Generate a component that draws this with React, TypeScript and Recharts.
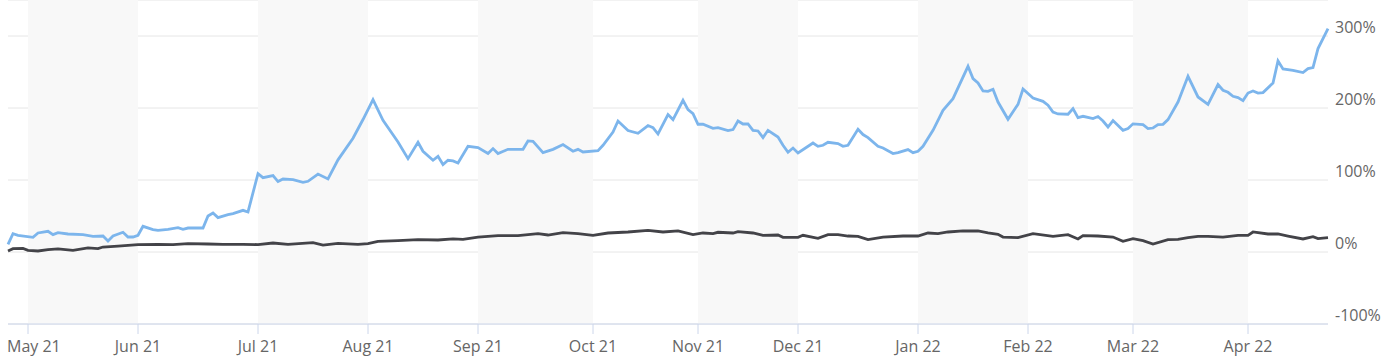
import { CartesianGrid, Line, LineChart, ReferenceArea, XAxis, YAxis } from 'recharts';

// x positions are session indexes (one per trading session shown on the ordinal axis)
const monthLabels = ['May 21', 'Jun 21', 'Jul 21', 'Aug 21', 'Sep 21', 'Oct 21', 'Nov 21', 'Dec 21', 'Jan 22', 'Feb 22', 'Mar 22', 'Apr 22'];
const monthStarts = [4, 26, 50, 72, 94, 117, 138, 158, 182, 204, 225, 248];
const lastSession = 264;
const yTicks = [-100, 0, 100, 200, 300];

const fundSessions = [
  0, 1, 2, 5, 6, 8, 9, 10, 12, 15, 17, 19, 20, 21, 23, 24, 25, 26, 27, 29, 30, 32, 34, 35, 36, 39,
  40, 41, 42, 44, 45, 47, 48, 50, 51, 53, 54, 55, 57, 59, 60, 62, 64, 66, 69, 71, 73, 75, 78, 80,
  82, 83, 85, 86, 87, 88, 89, 90, 92, 94, 96, 97, 98, 100, 103, 104, 105, 107, 109, 111, 113, 114,
  115, 118, 119, 121, 122, 124, 126, 128, 129, 130, 132, 133, 135, 136, 137, 138, 139, 141, 142,
  144, 145, 146, 147, 148, 149, 150, 151, 152, 154, 155, 156, 157, 158, 161, 162, 163, 164, 166,
  167, 168, 170, 171, 172, 174, 175, 177, 178, 180, 181, 182, 183, 185, 187, 189, 192, 193, 194,
  195, 196, 197, 198, 200, 202, 203, 205, 207, 208, 209, 210, 212, 213, 214, 215, 217, 218, 219,
  220, 221, 223, 224, 225, 227, 228, 229, 230, 231, 232, 234, 236, 238, 240, 242, 243, 244, 245,
  246, 247, 248, 249, 250, 251, 253, 254, 255, 257, 259, 260, 261, 262, 264,
];
const fundReturns = [
  10.7, 25.5, 23.2, 20.4, 26.4, 28.7, 24.1, 26.9, 25, 24.1, 21.8, 22.2, 15.3, 22.2, 27.4, 20.8, 20.8,
  23.2, 35.7, 31.1, 30.1, 31.5, 33.9, 31.5, 33.3, 33.3, 50, 54.2, 47.8, 51.9, 53.3, 57.9, 55.6,
  108.9, 103.3, 106.1, 97.8, 101.4, 100.5, 96.8, 98.2, 108.3, 101.4, 128, 158, 184, 211.7, 182.9,
  152.8, 129.7, 152.4, 139.9, 127.4, 132.9, 121.4, 127.4, 126.5, 123.6, 146.8, 145, 136.7, 143.6,
  136.7, 142.6, 142.6, 154.2, 153.8, 138, 142.6, 149.2, 139.9, 142.6, 138.9, 140.8, 148.2, 166.7,
  181.9, 168.6, 164.9, 175.6, 172.8, 163.9, 190.8, 183.9, 210.7, 197.8, 192.2, 177.4, 177.4, 171.8,
  172.8, 168.6, 170, 181.9, 177.8, 177.8, 169, 168.1, 158.9, 169, 159.7, 148.2, 138.5, 144.4, 137.5,
  151.4, 146.8, 148.2, 152.4, 150.6, 146.8, 148.2, 170.4, 163.1, 158.9, 146.8, 144.4, 136.7, 138,
  142.2, 138, 139.9, 146.8, 169, 196.8, 213, 257.9, 240.8, 234.7, 223.6, 223.2, 226, 208.3, 184.3,
  205.1, 226.4, 213.9, 209.3, 203.8, 194.4, 191.7, 191.3, 199.2, 186.7, 188.5, 185.3, 188.1, 181.9,
  173.6, 182.5, 169, 171.4, 178, 176.9, 171.4, 172.2, 176.9, 177.4, 183.9, 208.3, 244, 215.3, 205.1,
  232.5, 224.6, 221.8, 216.3, 214.4, 210.3, 220.8, 223.6, 220.8, 221.4, 234.7, 265.3, 254.2, 252.4,
  249.2, 254.7, 256.1, 282.5, 310.3,
];

const benchSessions = [
  0, 1, 3, 4, 6, 8, 10, 13, 16, 18, 19, 22, 26, 30, 33, 36, 40, 43, 47, 50, 53, 56, 61, 63, 66, 70,
  72, 74, 78, 82, 86, 89, 91, 94, 98, 102, 106, 108, 111, 114, 117, 120, 124, 128, 131, 134, 137,
  139, 141, 142, 145, 146, 149, 151, 154, 155, 158, 159, 162, 164, 166, 168, 170, 172, 175, 179,
  182, 184, 186, 188, 191, 194, 196, 198, 199, 202, 205, 209, 212, 214, 215, 218, 221, 223, 225,
  227, 229, 232, 234, 236, 238, 240, 243, 246, 248, 249, 252, 254, 256, 259, 261, 262, 264,
];
const benchReturns = [
  1.4, 4.7, 5.1, 2.4, 1.4, 3.3, 4.2, 2.4, 5.6, 4.7, 6.9, 8.3, 10.3, 10.7, 10.3, 11.7, 11.1, 10.7,
  10.7, 10.3, 12.5, 10.7, 13, 9.7, 12.1, 10.7, 11.7, 14.9, 15.8, 17.2, 16.7, 18.1, 17.6, 20.8, 22.8,
  22.8, 25.6, 23.6, 26.9, 25.6, 23.2, 26.4, 27.8, 30.1, 27.8, 29.2, 24.1, 26.4, 25.6, 27.4, 26.4,
  28.3, 26.4, 23.2, 23.6, 20.4, 20.4, 23.2, 19, 24.1, 24.1, 22.2, 21.8, 17.2, 20.8, 22.2, 22.2, 26.4,
  25.6, 27.8, 29.2, 29.2, 26.4, 24.6, 20.8, 20, 25.6, 21.8, 24.1, 18.1, 22.8, 22.2, 20.8, 14.9, 18.6,
  15.8, 11.1, 17.2, 17.6, 20, 21.8, 21.8, 20.8, 23.2, 23.2, 27.8, 25, 25, 22.2, 18.1, 21.4, 18.6, 20,
];

const byIndex = new Map<number, { t: number; fund?: number; bench?: number }>();
fundSessions.forEach((t, i) => byIndex.set(t, { ...(byIndex.get(t) ?? { t }), fund: fundReturns[i] }));
benchSessions.forEach((t, i) => byIndex.set(t, { ...(byIndex.get(t) ?? { t }), bench: benchReturns[i] }));
const data = [...byIndex.values()].sort((a, b) => a.t - b.t);

const shadedMonths = monthStarts
  .map((start, i) => ({ x1: start, x2: monthStarts[i + 1] ?? lastSession }))
  .filter((_, i) => i % 2 === 0);

const font = '"Open Sans", sans-serif';

const MonthTick = (props: any) => {
  const { x, y, payload, index } = props;
  const label = monthLabels[monthStarts.indexOf(payload.value)];
  const first = index === 0;
  return (
    <text
      x={first ? 7 : x}
      y={y}
      dy={15.5}
      textAnchor={first ? 'start' : 'middle'}
      fontSize={16}
      fontFamily={font}
      fill="#666666"
    >
      {label}
    </text>
  );
};

const PercentTick = (props: any) => {
  const { x, y, payload } = props;
  return (
    <text x={x} y={y} dy={-3.3} textAnchor="start" fontSize={16} fontFamily={font} fill="#666666">
      {`${payload.value}%`}
    </text>
  );
};

export default function App() {
  return (
    <div style={{ position: 'absolute', left: 0, top: 0, background: '#fff' }}>
      <LineChart width={1382} height={356} data={data} margin={{ top: 0, right: 0, bottom: 0, left: 8 }}>
        {shadedMonths.map((m) => (
          <ReferenceArea key={m.x1} x1={m.x1} x2={m.x2} y1={-100} y2={350} fill="#f8f8f8" fillOpacity={1} stroke="none" ifOverflow="hidden" />
        ))}
        <CartesianGrid vertical={false} stroke="#e6e6e6" strokeWidth={1} />
        <XAxis
          dataKey="t"
          type="number"
          domain={[0, lastSession]}
          ticks={monthStarts}
          interval={0}
          height={32}
          tickSize={10}
          tickMargin={2}
          tick={<MonthTick />}
          tickLine={{ stroke: '#ccd6eb' }}
          axisLine={{ stroke: '#ccd6eb' }}
        />
        <YAxis
          orientation="right"
          type="number"
          domain={[-100, 350]}
          ticks={yTicks}
          width={54}
          tickSize={0}
          tickMargin={7}
          tickLine={false}
          axisLine={false}
          tick={<PercentTick />}
        />
        <Line dataKey="fund" stroke="#7cb5ec" strokeWidth={2.8} dot={false} connectNulls isAnimationActive={false} />
        <Line dataKey="bench" stroke="#434348" strokeWidth={2.8} dot={false} connectNulls isAnimationActive={false} />
      </LineChart>
    </div>
  );
}
